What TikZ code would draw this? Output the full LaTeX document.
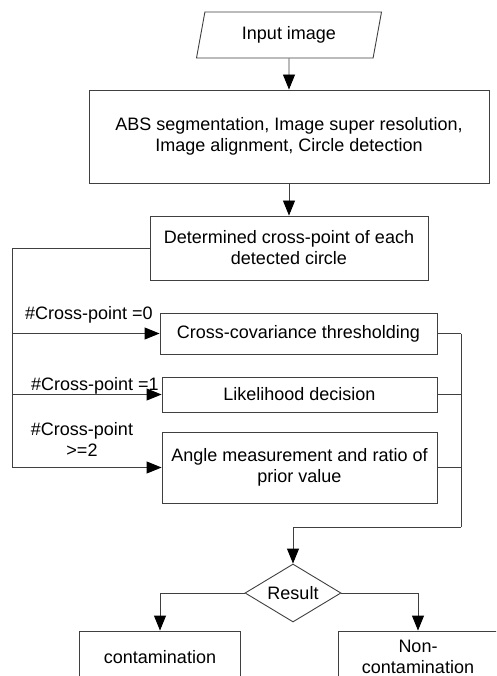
\documentclass[tikz,border=0pt]{standalone}
\usepackage{fontspec}
\setmainfont{Liberation Sans}
\usetikzlibrary{shapes.geometric,arrows.meta}
\begin{document}
\begin{tikzpicture}[x=1pt,y=-1pt,
  every node/.style={font=\fontsize{18pt}{21pt}\selectfont, inner sep=0pt},
  box/.style={draw=black!75, line width=0.9pt, align=center},
  conn/.style={draw=black!75, line width=0.9pt},
  arr/.style={conn, -{Triangle[length=15pt,width=12pt,color=black]}}
]
\useasboundingbox (0,0) rectangle (496,676);
\clip (0,0) rectangle (496,676);
\fill[white] (0,0) rectangle (496,676);

\node[trapezium, trapezium left angle=63.4, trapezium right angle=116.6,
      trapezium stretches body, draw=black!75, line width=0.9pt,
      minimum width=185pt, minimum height=46pt] (in) at (289,35) {Input image};
\node[box, minimum width=400pt, minimum height=93pt] (abs) at (289,136.5)
  {ABS segmentation, Image super resolution,\\Image alignment, Circle detection};
\node[box, minimum width=278pt, minimum height=64pt] (det) at (289,248)
  {Determined cross-point of each\\detected circle};
\node[box, minimum width=277pt, minimum height=41pt] (cc) at (298.5,333.5)
  {Cross-covariance thresholding};
\node[box, minimum width=275pt, minimum height=35pt] (lk) at (299.5,394.5)
  {Likelihood decision};
\node[box, minimum width=275pt, minimum height=71pt] (am) at (299.5,467.5)
  {Angle measurement and ratio of\\prior value};
\node[diamond, draw=black!75, line width=0.9pt, aspect=1.655,
      minimum width=96pt, minimum height=58pt] (res) at (293,593) {Result};
\node[box, minimum width=161pt, minimum height=52pt] (con) at (160,657) {contamination};
\node[box, minimum width=160pt, minimum height=52pt, align=center] (non) at (418,657)
  {Non-\\contamination};

\node (l0) at (89,315) {\#Cross-point =0};
\node (l1) at (95,386) {\#Cross-point =1};
\node[align=center] (l2) at (82,439) {\#Cross-point\\>=2};

\coordinate (lx) at (12,0);
\coordinate (rx) at (461,0);
\coordinate (rj) at (461,527);

\draw[arr] (in) -- (abs);
\draw[arr] (abs) -- (det);
\draw[conn] (det.west) -| (lx |- am.west);
\draw[arr] (lx |- cc.west) -- (cc.west);
\draw[arr] (lx |- lk.west) -- (lk.west);
\draw[arr] (lx |- am.west) -- (am.west);
\draw[conn] (cc.east) -- (rx |- cc.east);
\draw[conn] (lk.east) -- (rx |- lk.east);
\draw[conn] (am.east) -- (rx |- am.east);
\draw[conn] (rx |- cc.east) -- (rj);
\draw[arr] (rj) -| (res.north);
\draw[arr] (res.west) -| (con.north);
\draw[arr] (res.east) -| (non.north);
\end{tikzpicture}
\end{document}
